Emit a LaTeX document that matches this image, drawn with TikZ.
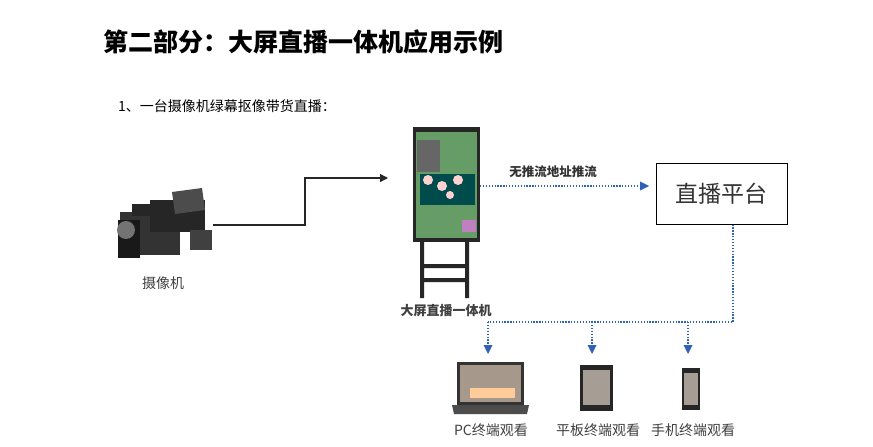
\documentclass[tikz,border=0pt]{standalone}
\usepackage{fontspec}
\setmainfont{Noto Sans CJK SC}
\usetikzlibrary{arrows.meta}
\definecolor{dotblue}{HTML}{2F62B4}
\begin{document}
\begin{tikzpicture}[x=1pt,y=-1pt,
  lbl/.style={font=\fontsize{14}{15}\selectfont, text=black!75, inner sep=0},
  dotline/.style={dotblue, line width=1.3pt, dash pattern=on 1.3pt off 1.6pt}]
\useasboundingbox (0,0) rectangle (873,447);
\fill[white] (0,0) rectangle (873,447);
\node[anchor=west, font=\fontsize{25}{28}\selectfont\bfseries, inner sep=0] (title) at (103,42) {第二部分：大屏直播一体机应用示例};
\node[anchor=west, font=\fontsize{14}{15}\selectfont, inner sep=0] (sub) at (118,106) {1、一台摄像机绿幕抠像带货直播：};
% camera
\begin{scope}
\fill[black!80] (120,212) rectangle (180,255);
\fill[black!90] (118,220) rectangle (140,258);
\fill[black!55] (126,230) circle (9);
\fill[black!85] (150,200) rectangle (205,232);
\fill[black!70] (172,192) -- (202,188) -- (205,210) -- (175,214) -- cycle;
\fill[black!85] (132,204) rectangle (160,216);
\fill[black!75] (190,230) rectangle (212,250);
\end{scope}
\coordinate (camout) at (213,225);
\node[lbl] (camlbl) at (163,283) {摄像机};
% display
\fill[black!85] (413,127) rectangle (480,242);
\fill[green!35!black!60] (416,132) rectangle (477,238);
\fill[black!60] (417,140) rectangle (440,172);
\fill[teal!60!black] (420,174) rectangle (475,205);
\fill[pink!70] (428,180) circle (5) (442,186) circle (5) (458,180) circle (5) (450,195) circle (4);
\fill[violet!50] (462,220) rectangle (476,232);
\fill[black!85] (420,242) rectangle (424,298) (465,242) rectangle (469,298)
  (420,264) rectangle (469,268) (420,278) rectangle (469,282);
\coordinate (scrin) at (388,178);
\coordinate (scrout) at (480,186);
\node[lbl, font=\fontsize{13}{14}\selectfont\bfseries] (scrlbl) at (446,311) {大屏直播一体机};
% platform
\node[draw, line width=1pt, minimum width=131pt, minimum height=61pt, font=\fontsize{23}{26}\selectfont, text=black!80] (plat) at (721.5,193.5) {直播平台};
% arrows
\draw[line width=1.2pt, black!85, -{Triangle[length=8pt,width=8pt]}] (camout) -| (305,178) -- (scrin);
\draw[dotline] (scrout) -- (643,186);
\fill[dotblue] (649,186) -- (640,181.5) -- (640,190.5) -- cycle;
\node[font=\fontsize{12.5}{14}\selectfont\bfseries, text=black!80, inner sep=0] (pushlbl) at (553,172) {无推流地址推流};
\coordinate (j) at (733,322);
\draw[dotline] (plat.south -| j) -- (j) -- (488,322);
\foreach \x in {488,592,688}{
  \draw[dotline] (\x,322) -- (\x,346);
  \fill[dotblue] (\x,354) -- (\x-4.5,345) -- (\x+4.5,345) -- cycle;
}
% laptop
\fill[black!80] (457,362) rectangle (524,405);
\fill[brown!40!black!50] (460,365) rectangle (521,402);
\fill[orange!40!white] (470,388) rectangle (515,398);
\fill[black!70] (452,405) -- (529,405) -- (527,414) -- (454,414) -- cycle;
% tablet
\fill[black!85] (580,365) rectangle (613,411);
\fill[brown!30!black!45] (583,370) rectangle (610,405);
% phone
\fill[black!85] (682,368) rectangle (700,410);
\fill[brown!30!black!45] (684,373) rectangle (698,405);
\node[lbl] (pc) at (491,430) {PC终端观看};
\node[lbl] (pad) at (598,430) {平板终端观看};
\node[lbl] (ph) at (693,430) {手机终端观看};
\end{tikzpicture}
\end{document}
